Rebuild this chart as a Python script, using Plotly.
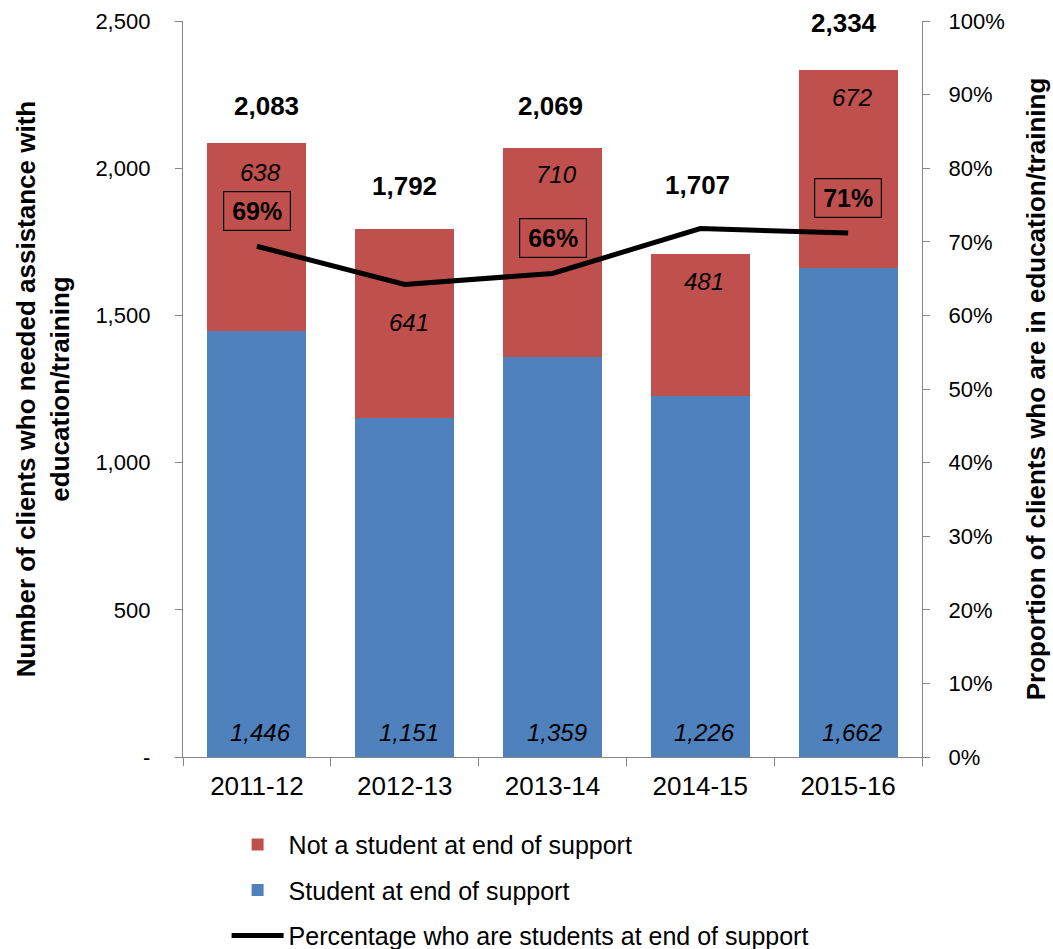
import plotly.graph_objects as go

# Financial years shown on the category axis
years = ["2011-12", "2012-13", "2013-14", "2014-15", "2015-16"]

# Clients who needed help with education/training, split by status at end of support
students = [1446, 1151, 1359, 1226, 1662]
not_students = [638, 641, 710, 481, 672]
totals = [2083, 1792, 2069, 1707, 2334]

# Share of clients who were students at end of support (right axis)
pct_students = [0.694, 0.642, 0.657, 0.718, 0.712]
pct_labels = ["69%", "", "66%", "", "71%"]

# Left axis ticks
left_ticks = [0, 500, 1000, 1500, 2000, 2500]
left_tick_text = ["-", "500", "1,000", "1,500", "2,000", "2,500"]

RED = "#C0504D"
BLUE = "#4F81BD"
AXIS = "#868686"
FONT = "Liberation Sans, Arial, sans-serif"

# label offsets in pixels (styling only)
total_dy = [38, 43, 42, 69, 47]
total_dx = [10, 0, -2, -3, -4]
red_dy = [-29, -93, -27, -27, -28]

fig = go.Figure()

fig.add_trace(go.Bar(
    x=years, y=students, name="Student at end of support",
    marker=dict(color=BLUE, line=dict(width=0)),
    legendgroup="s", legendrank=2,
))
fig.add_trace(go.Bar(
    x=years, y=not_students, name="Not a student at end of support",
    marker=dict(color=RED, line=dict(width=0)),
    legendgroup="n", legendrank=1,
))
fig.add_trace(go.Scatter(
    x=years, y=pct_students, yaxis="y2", mode="lines",
    name="Percentage who are students at end of support",
    line=dict(color="black", width=5),
    legendgroup="p", legendrank=3,
))

annotations = []
for i, yr in enumerate(years):
    # bold total above each stacked bar
    annotations.append(dict(
        x=yr, y=totals[i], xref="x", yref="y", text=f"<b>{totals[i]:,}</b>",
        showarrow=False, yanchor="middle", yshift=total_dy[i], xshift=total_dx[i],
        font=dict(family=FONT, size=26, color="black"),
    ))
    # italic value inside the red segment
    annotations.append(dict(
        x=yr, y=students[i] + not_students[i], xref="x", yref="y",
        text=f"<i>{not_students[i]:,}</i>", showarrow=False, yanchor="middle",
        yshift=red_dy[i], xshift=4,
        font=dict(family=FONT, size=24, color="black"),
    ))
    # italic value at the base of the blue segment
    annotations.append(dict(
        x=yr, y=0, xref="x", yref="y", text=f"<i>{students[i]:,}</i>",
        showarrow=False, yanchor="middle", yshift=25, xshift=4,
        font=dict(family=FONT, size=24, color="black"),
    ))
    # boxed percentage above selected line points
    if pct_labels[i]:
        annotations.append(dict(
            x=yr, y=pct_students[i], xref="x", yref="y2",
            text=f"<b>{pct_labels[i]}</b>", showarrow=False, yanchor="middle",
            yshift=35, width=58, height=30, borderpad=4,
            bordercolor="black", borderwidth=1.2,
            font=dict(family=FONT, size=25, color="black"),
        ))

fig.update_layout(
    width=1053, height=949,
    margin=dict(l=183, r=131, t=21, b=192, autoexpand=False),
    paper_bgcolor="white", plot_bgcolor="white",
    barmode="stack", bargap=0.33,
    font=dict(family=FONT, color="black"),
    showlegend=True,
    legend=dict(
        orientation="v", x=0.059, xanchor="left", y=-0.088, yanchor="top",
        traceorder="grouped", tracegroupgap=10, itemwidth=52,
        font=dict(family=FONT, size=25, color="black"),
        bgcolor="rgba(0,0,0,0)",
    ),
    xaxis=dict(
        type="category", showgrid=False, showline=True, linecolor=AXIS, linewidth=1.3,
        ticks="outside", tickson="boundaries", ticklen=8, tickcolor=AXIS, tickwidth=1.3,
        tickfont=dict(family=FONT, size=26, color="black"), ticklabelstandoff=6,
        automargin=False,
    ),
    yaxis=dict(
        range=[0, 2500], tickvals=left_ticks, ticktext=left_tick_text,
        showgrid=False, zeroline=False, showline=True, linecolor=AXIS, linewidth=1.3,
        ticks="outside", ticklen=7, tickcolor=AXIS, tickwidth=1.3,
        tickfont=dict(family=FONT, size=22, color="black"), ticklabelstandoff=20,
        automargin=False,
        title=dict(
            text="<b>Number of clients who needed assistance with<br>education/training</b>",
            font=dict(family=FONT, size=26, color="black"), standoff=18,
        ),
    ),
    yaxis2=dict(
        overlaying="y", side="right", range=[0, 1], tickformat=".0%", dtick=0.1,
        showgrid=False, zeroline=False, showline=True, linecolor=AXIS, linewidth=1.3,
        ticks="outside", ticklen=7, tickcolor=AXIS, tickwidth=1.3,
        tickfont=dict(family=FONT, size=22, color="black"), ticklabelstandoff=14,
        automargin=False,
        title=dict(
            text="<b>Proportion of clients who are in education/training</b>",
            font=dict(family=FONT, size=26, color="black"), standoff=22,
        ),
    ),
    annotations=annotations,
)

fig.write_html("out.html")
